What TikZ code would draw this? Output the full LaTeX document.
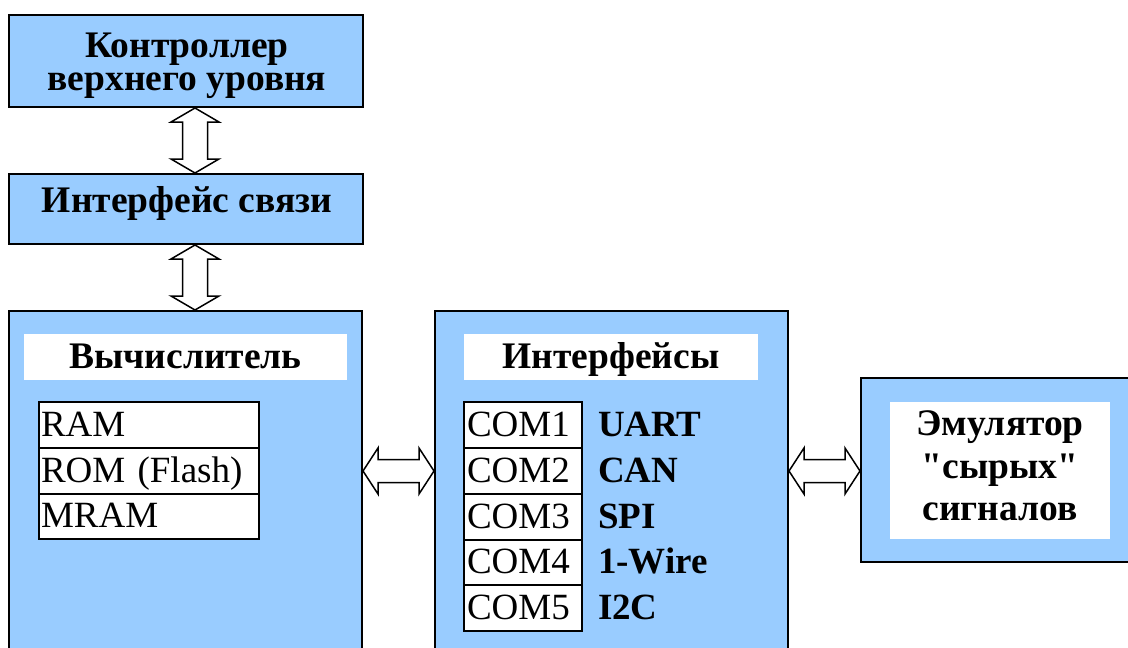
\documentclass[tikz,border=0pt]{standalone}
\usepackage{fontspec}
\setmainfont{Liberation Serif}[Ligatures=TeXOff]
\usetikzlibrary{calc}
\definecolor{busblue}{HTML}{99CCFF}
\tikzset{
  block/.style={draw, line width=2pt, fill=busblue, inner sep=0pt},
  plate/.style={fill=white, inner sep=0pt},
  cell/.style={draw, line width=1.6pt, fill=white, inner ysep=0pt,
    font=\fontsize{37}{37}\selectfont, text height=27pt, text depth=5pt, align=left},
  title/.style={font=\fontsize{37.5}{33}\selectfont\bfseries, inner sep=0pt, anchor=base},
  proto/.style={font=\fontsize{37}{37}\selectfont\bfseries, inner sep=0pt,
    text height=27pt, text depth=5pt, anchor=west},
  bus/.style={draw, line width=1.5pt, fill=white, line join=miter},
}
% vertical two-way bus between an upper tip #1 and a lower tip #2
\newcommand\vbus[2]{%
  \draw[bus] let \p1=(#1), \p2=(#2) in
    (\x1,\y1) -- (\x1+24pt,\y1-14pt) -- (\x1+12.5pt,\y1-14pt) -- (\x1+12.5pt,\y2+14pt)
    -- (\x1+24pt,\y2+14pt) -- (\x1,\y2) -- (\x1-24pt,\y2+14pt) -- (\x1-12.5pt,\y2+14pt)
    -- (\x1-12.5pt,\y1-14pt) -- (\x1-24pt,\y1-14pt) -- cycle;}
% horizontal two-way bus between a left tip #1 and a right tip #2
\newcommand\hbus[2]{%
  \draw[bus] let \p1=(#1), \p2=(#2) in
    (\x1,\y1) -- (\x1+15pt,\y1+23pt) -- (\x1+15pt,\y1+11.5pt) -- (\x2-15pt,\y1+11.5pt)
    -- (\x2-15pt,\y1+23pt) -- (\x2,\y1) -- (\x2-15pt,\y1-23pt) -- (\x2-15pt,\y1-11.5pt)
    -- (\x1+15pt,\y1-11.5pt) -- (\x1+15pt,\y1-23pt) -- cycle;}
\begin{document}
\begin{tikzpicture}[x=1pt,y=-1pt]
\useasboundingbox (0,0) rectangle (1128,648);
\clip (0,0) rectangle (1128,648);

% main blocks
\node[block, minimum width=354pt, minimum height=92pt] (ctl) at (186,61) {};
\node[block, minimum width=354pt, minimum height=70pt] (link) at (186,209) {};
\node[block, minimum width=353pt, minimum height=400pt] (cpu) at (185.5,511) {};
\node[block, minimum width=353pt, minimum height=400pt] (ifc) at (611.5,511) {};
\node[block, minimum width=280pt, minimum height=184pt] (emu) at (1001,470) {};

% white title plates
\node[plate, minimum width=323pt, minimum height=46pt] (cpuP) at (185.5,357) {};
\node[plate, minimum width=294pt, minimum height=46pt] (ifcP) at (611,357) {};
\node[plate, minimum width=220pt, minimum height=137pt] (emuP) at (1000,470.5) {};

% titles
\node[title] (ctlT) at (187,57.7) {\begin{tabular}[t]{@{}c@{}}Контроллер\\верхнего уровня\end{tabular}};
\node[title] (linkT) at (187,212) {Интерфейс связи};
\node[title] (cpuT) at (185.5,368) {Вычислитель};
\node[title] (ifcT) at (611,368) {Интерфейсы};
\node[title, font=\fontsize{37.5}{42.5}\selectfont\bfseries] (emuT) at (1000,435.5)
  {\begin{tabular}[t]{@{}c@{}}Эмулятор\\"сырых"\\сигналов\end{tabular}};

% memory table
\node[cell, text width=216pt, inner xsep=2pt, minimum height=46pt] (ram) at (149,425) {RAM};
\node[cell, text width=216pt, inner xsep=2pt, minimum height=46pt] (rom) at (149,471) {ROM (Flash)};
\node[cell, text width=216pt, inner xsep=2pt, minimum height=45pt] (mram) at (149,516.5) {MRAM};

% port table
\node[cell, text width=112pt, inner xsep=3pt, minimum height=46pt] (com1) at (523,425) {COM1};
\node[cell, text width=112pt, inner xsep=3pt, minimum height=46pt] (com2) at (523,471) {COM2};
\node[cell, text width=112pt, inner xsep=3pt, minimum height=46pt] (com3) at (523,517) {COM3};
\node[cell, text width=112pt, inner xsep=3pt, minimum height=45pt] (com4) at (523,562.5) {COM4};
\node[cell, text width=112pt, inner xsep=3pt, minimum height=46pt] (com5) at (523,608) {COM5};

% protocols
\node[proto] (p1) at ([xshift=15pt]com1.east) {UART};
\node[proto] (p2) at ([xshift=15pt]com2.east) {CAN};
\node[proto] (p3) at ([xshift=15pt]com3.east) {SPI};
\node[proto] (p4) at ([xshift=15pt]com4.east) {1-Wire};
\node[proto] (p5) at ([xshift=15pt]com5.east) {I2C};

% buses
\coordinate (colx) at (195,0);
\coordinate (rowy) at (0,471);
\vbus{ctl.south -| colx}{link.north -| colx}
\vbus{link.south -| colx}{cpu.north -| colx}
\hbus{cpu.east |- rowy}{ifc.west |- rowy}
\hbus{ifc.east |- rowy}{emu.west |- rowy}
\end{tikzpicture}
\end{document}
